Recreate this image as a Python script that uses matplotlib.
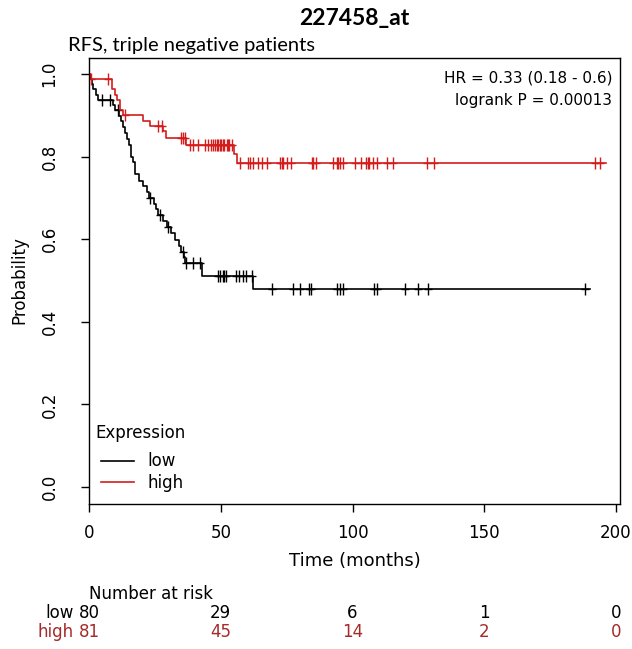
import numpy as np
import matplotlib
matplotlib.use("Agg")
import matplotlib.pyplot as plt
from matplotlib.transforms import blended_transform_factory

plt.rcParams["font.family"] = ["DejaVu Sans"]

# survival steps (time in months, survival after the step)
low_t = [0.5, 1.0, 1.5, 2.5, 3.5, 9.0, 10.0, 11.5, 12.3, 13.0, 13.8, 14.5, 15.2,
         16.0, 16.8, 17.5, 19.0, 20.5, 22.0, 22.7, 24.5, 25.5, 26.3, 28.0, 29.5,
         31.0, 32.5, 34.0, 35.0, 36.0, 36.6, 42.7, 62.1]
low_s = [0.988, 0.975, 0.963, 0.950, 0.938, 0.925, 0.912, 0.899, 0.886, 0.872,
         0.858, 0.843, 0.829, 0.800, 0.786, 0.757, 0.742, 0.728, 0.714, 0.700,
         0.686, 0.672, 0.658, 0.644, 0.629, 0.614, 0.599, 0.584, 0.570, 0.557,
         0.543, 0.512, 0.479]
low_cens = [4.8, 8.0, 11.1, 23.1, 26.9, 30.0, 35.5, 36.8, 39.6, 42.1, 49.1, 49.6,
            50.7, 51.2, 52.0, 55.8, 57.1, 58.3, 59.6, 61.7, 69.6, 77.4, 80.0, 83.6,
            84.4, 94.0, 95.2, 96.2, 108.3, 109.2, 120.0, 124.7, 128.5, 188.4]
low_end = 190.0

high_t = [0.4, 8.6, 9.9, 10.5, 11.8, 13.0, 20.6, 23.0, 28.0, 29.4, 36.9, 55.0, 56.0]
high_s = [0.988, 0.963, 0.950, 0.938, 0.913, 0.900, 0.887, 0.875, 0.861, 0.845,
          0.828, 0.806, 0.784]
high_cens = [0.8, 7.3, 13.7, 26.3, 27.6, 35.1, 35.7, 36.3, 38.3, 39.5, 41.5, 43.9,
             45.2, 46.4, 47.1, 47.7, 48.4, 48.9, 49.7, 50.2, 51.0, 51.4, 52.3, 52.7,
             53.3, 54.1, 57.3, 60.5, 61.1, 62.4, 64.0, 65.8, 67.4, 72.5, 73.1, 73.7,
             75.0, 76.5, 84.5, 85.1, 86.1, 92.7, 94.2, 94.6, 95.3, 96.5, 101.0,
             103.2, 105.1, 105.8, 106.4, 107.6, 109.2, 113.0, 115.5, 128.1, 130.9,
             192.0, 194.0]
high_end = 196.0

risk_times = [0, 50, 100, 150, 200]
risk_low = [80, 29, 6, 1, 0]
risk_high = [81, 45, 14, 2, 0]

LOW_COL = "black"
HIGH_COL = "#d41c1c"
HIGH_TXT = "#a52a2a"


def km_line(ax, t, s, cens, end, color, label):
    x = np.r_[0.0, t, end]
    y = np.r_[1.0, s, s[-1]]
    ax.step(x, y, where="post", color=color, lw=1.2, label=label)
    idx = np.searchsorted(t, cens, side="right")
    cy = np.r_[1.0, s][idx]
    ax.plot(cens, cy, ls="none", marker="|", ms=9, mew=1.0, color=color)
    ax.plot(cens, cy, ls="none", marker="_", ms=6, mew=1.0, color=color)


fig = plt.figure(figsize=(6.32, 6.49), dpi=100)
ax = fig.add_axes([89 / 632, 1 - 503.5 / 649, 531 / 632, 446 / 649])

km_line(ax, low_t, low_s, low_cens, low_end, LOW_COL, "low")
km_line(ax, high_t, high_s, high_cens, high_end, HIGH_COL, "high")

ax.set_xlim(0, 201.5)
ax.set_ylim(-0.04, 1.04)
ax.set_xticks(risk_times)
ax.set_yticks(np.arange(0, 1.01, 0.2))
ax.set_yticklabels([f"{v:.1f}" for v in np.arange(0, 1.01, 0.2)],
                   rotation=90, va="center")
ax.tick_params(labelsize=12, length=6, width=1)
ax.tick_params(axis="x", pad=9)
ax.tick_params(axis="y", pad=16)
for sp in ax.spines.values():
    sp.set_linewidth(1)
ax.set_xlabel("Time (months)", fontsize=13, labelpad=7)
ax.set_ylabel("Probability", fontsize=12, labelpad=9)

# legend title drawn apart so the gap below it matches the original
ax.legend(frameon=False, loc="lower left", bbox_to_anchor=(0.0, 0.0),
          fontsize=12, handlelength=2.0, labelspacing=0.2, borderaxespad=0.3)
fig.text(95 / 632, 1 - 433 / 649, "Expression", ha="left", va="center",
         fontsize=12)

fig.text(354.5 / 632, 1 - 18 / 649, "227458_at", ha="center", va="center",
         fontsize=16.5, fontweight="bold", family="Lato")
fig.text(68 / 632, 1 - 45 / 649, "RFS, triple negative patients", ha="left",
         va="center", fontsize=14.5, family="Lato")
fig.text(612 / 632, 1 - 78 / 649, "HR = 0.33 (0.18 - 0.6)", ha="right",
         va="center", fontsize=11)
fig.text(612 / 632, 1 - 100 / 649, "logrank P = 0.00013", ha="right",
         va="center", fontsize=11)

# number at risk table
tr = blended_transform_factory(ax.transData, fig.transFigure)
fig.text(89 / 632, 1 - 594 / 649, "Number at risk", ha="left", va="center",
         fontsize=12)
fig.text(74 / 632, 1 - 613 / 649, "low", ha="right", va="center", fontsize=12)
fig.text(74 / 632, 1 - 632 / 649, "high", ha="right", va="center", fontsize=12,
         color=HIGH_TXT)
for tt, nl, nh in zip(risk_times, risk_low, risk_high):
    ax.text(tt, 1 - 613 / 649, str(nl), transform=tr, ha="center", va="center",
            fontsize=12, clip_on=False)
    ax.text(tt, 1 - 632 / 649, str(nh), transform=tr, ha="center", va="center",
            fontsize=12, color=HIGH_TXT, clip_on=False)

fig.savefig("out.png", dpi=100)
